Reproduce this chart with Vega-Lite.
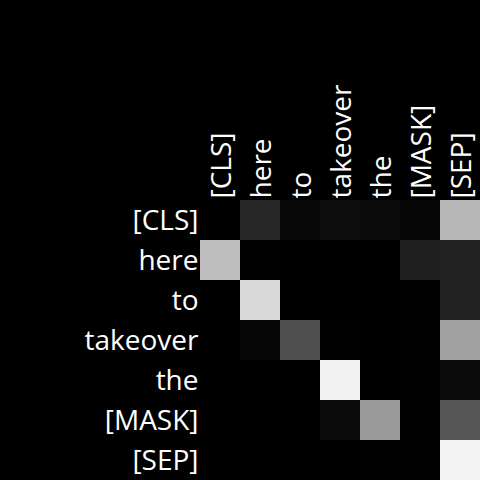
{
  "$schema": "https://vega.github.io/schema/vega-lite/v6.json",
  "width": 280,
  "height": 280,
  "autosize": "none",
  "padding": {"left": 200, "top": 200, "right": 0, "bottom": 0},
  "background": "black",
  "config": {
    "view": {"stroke": null},
    "axis": {
      "labelFont": "Open Sans",
      "labelFontSize": 28,
      "labelColor": "white",
      "ticks": false,
      "domain": false,
      "grid": false,
      "title": null
    }
  },
  "data": {
    "values": [
      {"row": "[CLS]", "col": "[CLS]", "w": 0.0},
      {"row": "[CLS]", "col": "here", "w": 0.15},
      {"row": "[CLS]", "col": "to", "w": 0.028},
      {"row": "[CLS]", "col": "takeover", "w": 0.047},
      {"row": "[CLS]", "col": "the", "w": 0.043},
      {"row": "[CLS]", "col": "[MASK]", "w": 0.024},
      {"row": "[CLS]", "col": "[SEP]", "w": 0.718},
      {"row": "here", "col": "[CLS]", "w": 0.745},
      {"row": "here", "col": "here", "w": 0.008},
      {"row": "here", "col": "to", "w": 0.0},
      {"row": "here", "col": "takeover", "w": 0.0},
      {"row": "here", "col": "the", "w": 0.0},
      {"row": "here", "col": "[MASK]", "w": 0.118},
      {"row": "here", "col": "[SEP]", "w": 0.129},
      {"row": "to", "col": "[CLS]", "w": 0.0},
      {"row": "to", "col": "here", "w": 0.851},
      {"row": "to", "col": "to", "w": 0.0},
      {"row": "to", "col": "takeover", "w": 0.0},
      {"row": "to", "col": "the", "w": 0.0},
      {"row": "to", "col": "[MASK]", "w": 0.006},
      {"row": "to", "col": "[SEP]", "w": 0.129},
      {"row": "takeover", "col": "[CLS]", "w": 0.0},
      {"row": "takeover", "col": "here", "w": 0.024},
      {"row": "takeover", "col": "to", "w": 0.314},
      {"row": "takeover", "col": "takeover", "w": 0.008},
      {"row": "takeover", "col": "the", "w": 0.0},
      {"row": "takeover", "col": "[MASK]", "w": 0.008},
      {"row": "takeover", "col": "[SEP]", "w": 0.631},
      {"row": "the", "col": "[CLS]", "w": 0.0},
      {"row": "the", "col": "here", "w": 0.0},
      {"row": "the", "col": "to", "w": 0.0},
      {"row": "the", "col": "takeover", "w": 0.949},
      {"row": "the", "col": "the", "w": 0.0},
      {"row": "the", "col": "[MASK]", "w": 0.008},
      {"row": "the", "col": "[SEP]", "w": 0.043},
      {"row": "[MASK]", "col": "[CLS]", "w": 0.0},
      {"row": "[MASK]", "col": "here", "w": 0.0},
      {"row": "[MASK]", "col": "to", "w": 0.0},
      {"row": "[MASK]", "col": "takeover", "w": 0.043},
      {"row": "[MASK]", "col": "the", "w": 0.604},
      {"row": "[MASK]", "col": "[MASK]", "w": 0.008},
      {"row": "[MASK]", "col": "[SEP]", "w": 0.333},
      {"row": "[SEP]", "col": "[CLS]", "w": 0.0},
      {"row": "[SEP]", "col": "here", "w": 0.0},
      {"row": "[SEP]", "col": "to", "w": 0.0},
      {"row": "[SEP]", "col": "takeover", "w": 0.0},
      {"row": "[SEP]", "col": "the", "w": 0.004},
      {"row": "[SEP]", "col": "[MASK]", "w": 0.008},
      {"row": "[SEP]", "col": "[SEP]", "w": 0.957}
    ]
  },
  "mark": {"type": "rect", "strokeWidth": 0},
  "encoding": {
    "x": {
      "field": "col",
      "type": "nominal",
      "sort": ["[CLS]", "here", "to", "takeover", "the", "[MASK]", "[SEP]"],
      "scale": {"paddingInner": 0, "paddingOuter": 0},
      "axis": {"orient": "top", "labelAngle": -90, "labelPadding": 2, "labelOffset": 3}
    },
    "y": {
      "field": "row",
      "type": "nominal",
      "sort": ["[CLS]", "here", "to", "takeover", "the", "[MASK]", "[SEP]"],
      "scale": {"paddingInner": 0, "paddingOuter": 0},
      "axis": {"orient": "left", "labelPadding": 2, "labelAlign": "right", "labelOffset": 2}
    },
    "color": {
      "field": "w",
      "type": "quantitative",
      "scale": {"domain": [0, 1], "range": ["black", "white"], "interpolate": "rgb"},
      "legend": null
    }
  }
}
